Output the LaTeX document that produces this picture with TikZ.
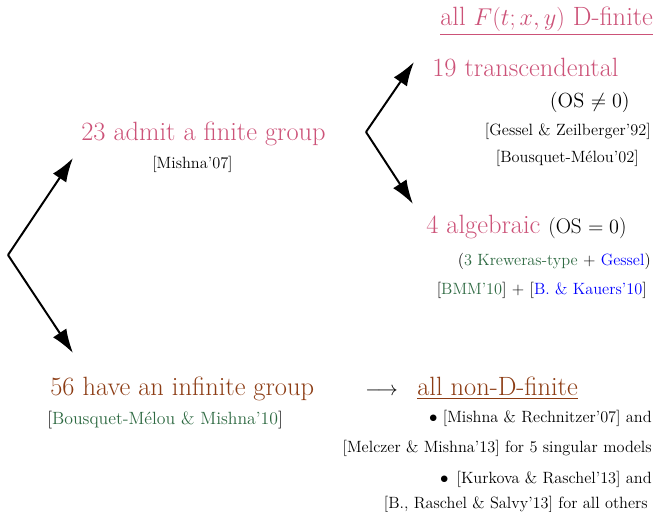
\documentclass[tikz,border=0pt]{standalone}
\usetikzlibrary{arrows.meta}
\definecolor{rosepink}{RGB}{204,82,120}
\definecolor{rustbrown}{RGB}{140,60,20}
\definecolor{citegreen}{RGB}{45,105,65}
\tikzset{
  big/.style={font=\fontsize{18.8}{22}\selectfont, inner sep=0pt},
  mid/.style={font=\fontsize{14.5}{17}\selectfont, inner sep=0pt},
  cite/.style={font=\fontsize{11.6}{14}\selectfont, inner sep=0pt},
  branch/.style={-{Latex[length=0.6cm,width=0.4cm]}, line width=1.4pt}
}
\begin{document}
\begin{tikzpicture}[x=0.025cm,y=-0.025cm]
        \useasboundingbox (0,0) rectangle (654,512);
        % Finite group
            \node[big, text=rosepink, anchor=base west] (finite) at (81,141) {23 admit a finite group};
            \node[cite, anchor=base west] (mishna) at (152,169) {[Mishna'07]};
            \node[big, text=rosepink, anchor=base west] (dfin) at (440,26) {\underline{all $F(t;x,y)$ D-finite}};
            \node[big, text=rosepink, anchor=base west] (transc) at (432,77) {19 transcendental};
            \node[mid, anchor=base east] (osne) at (630,108) {(OS $\neq 0$)};
            \node[cite, anchor=base east] (gessel) at (651,136) {[Gessel \& Zeilberger'92]};
            \node[cite, anchor=base east] (bm) at (639,163) {[Bousquet-M\'elou'02]};
            \node[big, anchor=base west] (alg) at (426,234) {\textcolor{rosepink}{4 algebraic} {\fontsize{15}{18}\selectfont(OS $=0$)}};
            \node[cite, anchor=base east] (krew) at (651,266) {(\textcolor{citegreen}{3 Kreweras-type} + \textcolor{blue}{Gessel})};
            \node[cite, anchor=base east] (bmm) at (647,294) {[\textcolor{citegreen}{BMM'10}] + [\textcolor{blue}{B. \& Kauers'10}]};
        % Infinite group
            \node[big, text=rustbrown, anchor=base west] (infinite) at (50,396) {56 have an infinite group};
            \node[cite, font=\fontsize{12.6}{15}\selectfont, anchor=base west] (bmmi) at (47,425) {[\textcolor{citegreen}{Bousquet-M\'elou \& Mishna'10}]};
            \node[mid, anchor=base west] (long) at (365,396) {$\longrightarrow$};
            \node[big, text=rustbrown, anchor=base west] (nondfin) at (417,396) {\underline{all non-D-finite}};
            \node[cite, anchor=base east] (mr) at (652,423) {$\bullet$ [Mishna \& Rechnitzer'07] and};
            \node[cite, anchor=base east] (mm) at (652,452) {[Melczer \& Mishna'13] for 5 singular models};
            \node[cite, anchor=base east] (kr) at (652,483) {$\bullet$\enspace [Kurkova \& Raschel'13] and};
            \node[cite, anchor=base east] (brs) at (648,509) {[B., Raschel \& Salvy'13] for all others};
        % Branches
            \coordinate (root) at (8,255);
            \coordinate (up) at (73,158);
            \coordinate (down) at (73,353);
            \coordinate (split) at (366,132);
            \coordinate (upr) at (414,62);
            \coordinate (downr) at (413,204);
            \draw[branch] (root) -- (up);
            \draw[branch] (root) -- (down);
            \draw[branch] (split) -- (upr);
            \draw[branch] (split) -- (downr);
        \end{tikzpicture}
\end{document}
